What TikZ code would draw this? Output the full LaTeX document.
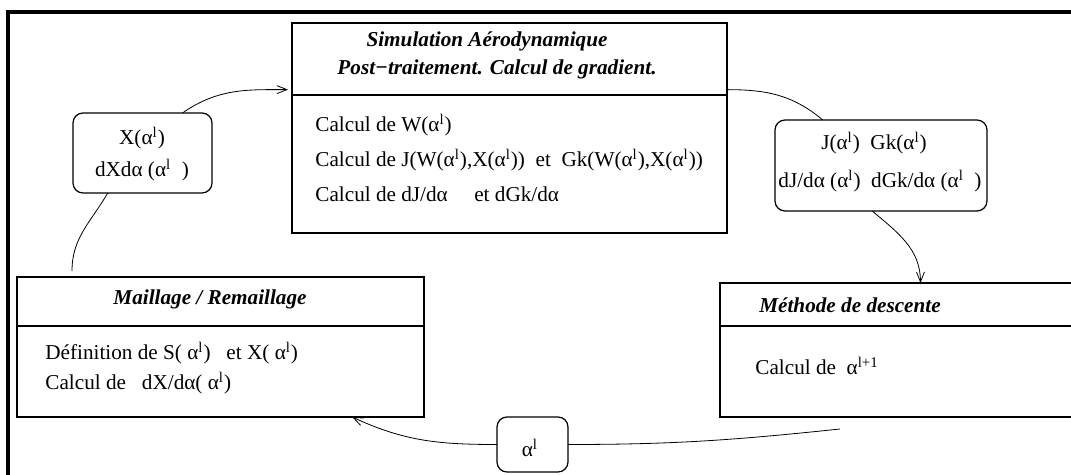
\documentclass[tikz,border=0pt]{standalone}
\usepackage{fontspec}
\setmainfont{Liberation Serif}
\usetikzlibrary{calc, positioning, arrows.meta}
\newcommand{\aal}{α\textsuperscript{l}}

\begin{document}
\begin{tikzpicture}[x=0.5pt, y=0.5pt,
  box/.style={draw, line width=0.6pt, inner sep=0pt, outer sep=0pt},
  rbox/.style={box, rounded corners=5pt},
  hd/.style={font=\fontsize{10.6}{14}\selectfont\bfseries\itshape, inner sep=0pt, anchor=base},
  txt/.style={font=\fontsize{10.6}{14}\selectfont, inner sep=0pt, anchor=base west},
  ctxt/.style={txt, anchor=base},
  arr/.style={-{Straight Barb[length=5pt,width=4pt]}, line width=0.4pt},
  lnk/.style={line width=0.4pt}]
\useasboundingbox (0,0) rectangle (1071,-475);
\clip (0,0) rectangle (1071,-475);
\draw[line width=1.6pt] (8,-12) rectangle (1090,-495);

% boites
\node[box, minimum width=217.5pt, minimum height=105pt] (aero) at (509.5,-128) {};
\node[box, minimum width=203.5pt, minimum height=70pt] (maille) at (220.5,-347) {};
\node[box, minimum width=185pt, minimum height=67pt] (meth) at (905,-350) {};
\node[rbox, minimum width=69.5pt, minimum height=40pt] (xbox) at (142.5,-153) {};
\node[rbox, minimum width=106pt, minimum height=45.5pt] (jbox) at (881,-165.5) {};
\node[rbox, minimum width=35.5pt, minimum height=27.5pt] (abox) at (532.5,-444.5) {};
\draw[line width=0.6pt] (292,-95) -- (727,-95);
\draw[line width=0.6pt] (17,-326) -- (424,-326);
\draw[line width=0.6pt] (720,-326) -- (1090,-326);

% textes
\node[hd] (aeroT1) at (487,-47) {Simulation Aérodynamique};
\node[hd] (aeroT2) at (497,-75) {Post−traitement. Calcul de gradient.};
\node[txt] (aeroL1) at (315,-132) {Calcul de W(\aal)};
\node[txt] (aeroL2) at (315,-167) {Calcul de J(W(\aal),X(\aal))\ \ et\ \ Gk(W(\aal),X(\aal))};
\node[txt] (aeroL3) at (315,-202) {Calcul de dJ/dα\quad\ et dGk/dα};
\node[ctxt] (xL1) at (142,-145) {X(\aal)};
\node[ctxt] (xL2) at (142,-177) {dXdα (\aal\ \ )};
\node[ctxt] (jL1) at (874,-150) {J(\aal)\ \ Gk(\aal)};
\node[ctxt] (jL2) at (880,-188) {dJ/dα (\aal)\ \ dGk/dα (\aal\ \ )};
\node[hd] (mailleT) at (210,-305) {Maillage / Remaillage};
\node[txt] (mailleL1) at (45,-360) {Définition de S( \aal)\ \ \ et X( \aal)};
\node[txt] (mailleL2) at (45,-390) {Calcul de\ \ \ dX/dα( \aal)};
\node[hd] (methT) at (850,-313) {Méthode de descente};
\node[txt] (methL1) at (755,-375) {Calcul de\ \ α\textsuperscript{l+1}};
\node[ctxt] (aL) at (530,-457) {\aal};

% liens
\coordinate (m0) at (72,-271);
\coordinate (m1) at (840,-429);
\draw[lnk] (m0) to[out=90, in=-120] (xbox.-131);
\draw[arr, shorten >=2pt] (xbox.45) to[out=35, in=180] (aero.170);
\draw[lnk] (aero.10) to[out=0, in=140] (jbox.142);
\draw[arr] (jbox.-101) to[out=-40, in=90] (meth.77);
\draw[lnk] (m1) to[out=186, in=0] (abox.east);
\draw[arr] (abox.west) to[out=180, in=-25] (maille.-28);
\end{tikzpicture}
\end{document}
